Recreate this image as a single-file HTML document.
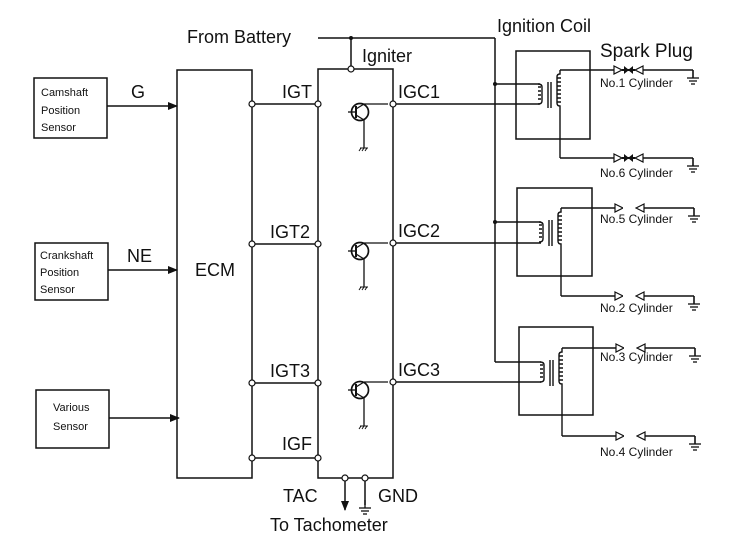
<!DOCTYPE html>
<html><head><meta charset="utf-8"><style>
html,body{margin:0;padding:0;background:#fff;}
svg{display:block;}
text{font-family:"Liberation Sans",sans-serif;fill:#111;}
</style></head><body>
<svg width="738" height="559" viewBox="0 0 738 559" xmlns="http://www.w3.org/2000/svg">
<defs>
<marker id="ar" markerWidth="10" markerHeight="8" refX="9" refY="4" orient="auto" markerUnits="userSpaceOnUse"><path d="M0,0 L10,4 L0,8 Z" fill="#111"/></marker>
<g id="gnd"><line x1="0" y1="0" x2="0" y2="8" stroke="#111" stroke-width="1.3"/><line x1="-6" y1="8" x2="6" y2="8" stroke="#111" stroke-width="1.3"/><line x1="-4" y1="11" x2="4" y2="11" stroke="#111" stroke-width="1.3"/><line x1="-2" y1="14" x2="2" y2="14" stroke="#111" stroke-width="1.3"/></g>
<g id="tr">
<circle cx="0" cy="0" r="8.5" fill="none" stroke="#111" stroke-width="1.7"/>
<line x1="-12" y1="0" x2="-4" y2="0" stroke="#111" stroke-width="1.3"/>
<line x1="-4" y1="-6" x2="-4" y2="6" stroke="#111" stroke-width="2"/>
<line x1="-4" y1="-3" x2="4" y2="-8" stroke="#111" stroke-width="1.3"/>
<line x1="4" y1="-8" x2="28" y2="-8" stroke="#111" stroke-width="1.3"/>
<line x1="-4" y1="3" x2="4" y2="8" stroke="#111" stroke-width="1.3"/>
<line x1="4" y1="8" x2="4" y2="36" stroke="#111" stroke-width="1.3"/>
<line x1="0" y1="36" x2="8" y2="36" stroke="#111" stroke-width="1"/>
<line x1="1" y1="36" x2="-1" y2="39" stroke="#111"/><line x1="4" y1="36" x2="2" y2="39" stroke="#111"/><line x1="7" y1="36" x2="5" y2="39" stroke="#111"/>
</g>
</defs>
<g stroke="#111" stroke-width="1.5" fill="none">
<rect x="34" y="78" width="73" height="60"/>
<rect x="35" y="243" width="73" height="57"/>
<rect x="36" y="390" width="73" height="58"/>
<line x1="107" y1="106" x2="177" y2="106" marker-end="url(#ar)"/>
<line x1="108" y1="270" x2="177" y2="270" marker-end="url(#ar)"/>
<line x1="109" y1="418" x2="179" y2="418" marker-end="url(#ar)"/>
<rect x="177" y="70" width="75" height="408"/>
<rect x="318" y="69" width="75" height="409"/>
<line x1="252" y1="104" x2="318" y2="104"/>
<line x1="252" y1="244" x2="318" y2="244"/>
<line x1="252" y1="383" x2="318" y2="383"/>
<line x1="252" y1="458" x2="318" y2="458"/>
<line x1="318" y1="38" x2="495" y2="38"/>
<line x1="351" y1="38" x2="351" y2="69"/>
<line x1="495" y1="38" x2="495" y2="362"/>
<line x1="495" y1="362" x2="541" y2="362"/>
<line x1="495" y1="84" x2="540" y2="84"/>
<line x1="495" y1="222" x2="541" y2="222"/>
<line x1="393" y1="104" x2="540" y2="104"/>
<line x1="393" y1="243" x2="541" y2="243"/>
<line x1="393" y1="382" x2="541" y2="382"/>
<line x1="345" y1="478" x2="345" y2="510" marker-end="url(#ar)"/>
<line x1="365" y1="478" x2="365" y2="505"/>
</g>
<use href="#gnd" x="365" y="500"/>
<use href="#tr" x="360" y="112"/>
<use href="#tr" x="360" y="251"/>
<use href="#tr" x="360" y="390"/>
<g fill="#fff" stroke="#111" stroke-width="1.2">
<circle cx="252" cy="104" r="3"/><circle cx="318" cy="104" r="3"/><circle cx="393" cy="104" r="3"/>
<circle cx="252" cy="244" r="3"/><circle cx="318" cy="244" r="3"/><circle cx="393" cy="243" r="3"/>
<circle cx="252" cy="383" r="3"/><circle cx="318" cy="383" r="3"/><circle cx="393" cy="382" r="3"/>
<circle cx="252" cy="458" r="3"/><circle cx="318" cy="458" r="3"/>
<circle cx="351" cy="69" r="3"/><circle cx="345" cy="478" r="3"/><circle cx="365" cy="478" r="3"/>
</g>
<circle cx="351" cy="38" r="2" fill="#111"/>
<circle cx="495" cy="84" r="2" fill="#111"/>
<circle cx="495" cy="222" r="2" fill="#111"/>
<g stroke="#111" stroke-width="1.5" fill="none">
<rect x="516" y="51" width="74" height="88"/>
<rect x="517" y="188" width="75" height="88"/>
<rect x="519" y="327" width="74" height="88"/>
</g>
<g id="coil1" stroke="#111" fill="none" stroke-width="1.4">
<path d="M538,84 q4,0 4,3 v14 q0,3 -4,3" /><path d="M538,87 h3 M538,91 h3 M538,95 h3 M538,99 h3"/>
<line x1="548" y1="82" x2="548" y2="108"/><line x1="551" y1="82" x2="551" y2="108"/>
<path d="M560,70 v4 q-3,0 -3,3 v26 q0,3 3,3 v52"/><path d="M557,78 h4 M557,82 h4 M557,86 h4 M557,90 h4 M557,94 h4 M557,98 h4 M557,102 h4"/>
<line x1="560" y1="70" x2="614" y2="70"/><line x1="643" y1="70" x2="693" y2="70"/><line x1="693" y1="70" x2="693" y2="78"/>
<line x1="560" y1="158" x2="614" y2="158"/><line x1="643" y1="158" x2="693" y2="158"/><line x1="693" y1="158" x2="693" y2="166"/>
</g>
<use href="#coil1" transform="translate(1,138)"/>
<use href="#coil1" transform="translate(2,278)"/>
<g stroke="#111" stroke-width="1.2" fill="#fff">
<path d="M614,66 l8,4 l-8,4 z"/><path d="M643,66 l-8,4 l8,4 z"/>
<path d="M614,154 l8,4 l-8,4 z"/><path d="M643,154 l-8,4 l8,4 z"/>
<path d="M615,204 l8,4 l-8,4 z"/><path d="M644,204 l-8,4 l8,4 z"/>
<path d="M615,292 l8,4 l-8,4 z"/><path d="M644,292 l-8,4 l8,4 z"/>
<path d="M616,344 l8,4 l-8,4 z"/><path d="M645,344 l-8,4 l8,4 z"/>
<path d="M616,432 l8,4 l-8,4 z"/><path d="M645,432 l-8,4 l8,4 z"/>
</g>
<g stroke="#111" stroke-width="2"><line x1="622" y1="70" x2="635" y2="70"/><line x1="622" y1="158" x2="635" y2="158"/></g>
<g fill="#111"><path d="M624,66 l5,4 l-5,4z"/><path d="M633,66 l-5,4 l5,4z"/><path d="M624,154 l5,4 l-5,4z"/><path d="M633,154 l-5,4 l5,4z"/></g>
<g fill="#fff"><rect x="623" y="200" width="12" height="16"/><rect x="623" y="288" width="12" height="16"/><rect x="624" y="340" width="12" height="16"/><rect x="624" y="428" width="12" height="16"/></g>
<use href="#gnd" x="693" y="70"/><use href="#gnd" x="693" y="158"/>
<use href="#gnd" x="694" y="208"/><use href="#gnd" x="694" y="296"/>
<use href="#gnd" x="695" y="348"/><use href="#gnd" x="695" y="436"/>
<g font-size="11">
<text x="41" y="96">Camshaft</text><text x="41" y="114">Position</text><text x="41" y="131">Sensor</text>
<text x="40" y="259">Crankshaft</text><text x="40" y="276">Position</text><text x="40" y="293">Sensor</text>
<text x="53" y="411">Various</text><text x="53" y="430">Sensor</text>
</g>
<g font-size="18">
<text x="131" y="98">G</text>
<text x="127" y="262">NE</text>
<text x="195" y="276">ECM</text>
<text x="187" y="43">From Battery</text>
<text x="362" y="62">Igniter</text>
<text x="497" y="32">Ignition Coil</text>
<text x="600" y="57" font-size="19">Spark Plug</text>
<text x="282" y="98">IGT</text><text x="270" y="238">IGT2</text><text x="270" y="377">IGT3</text><text x="282" y="450">IGF</text>
<text x="398" y="98">IGC1</text><text x="398" y="237">IGC2</text><text x="398" y="376">IGC3</text>
<text x="283" y="502">TAC</text><text x="378" y="502">GND</text>
<text x="270" y="531">To Tachometer</text>
</g>
<g font-size="12">
<text x="600" y="87">No.1 Cylinder</text><text x="600" y="177">No.6 Cylinder</text>
<text x="600" y="223">No.5 Cylinder</text><text x="600" y="312">No.2 Cylinder</text>
<text x="600" y="361">No.3 Cylinder</text><text x="600" y="456">No.4 Cylinder</text>
</g>
</svg>
</body></html>
